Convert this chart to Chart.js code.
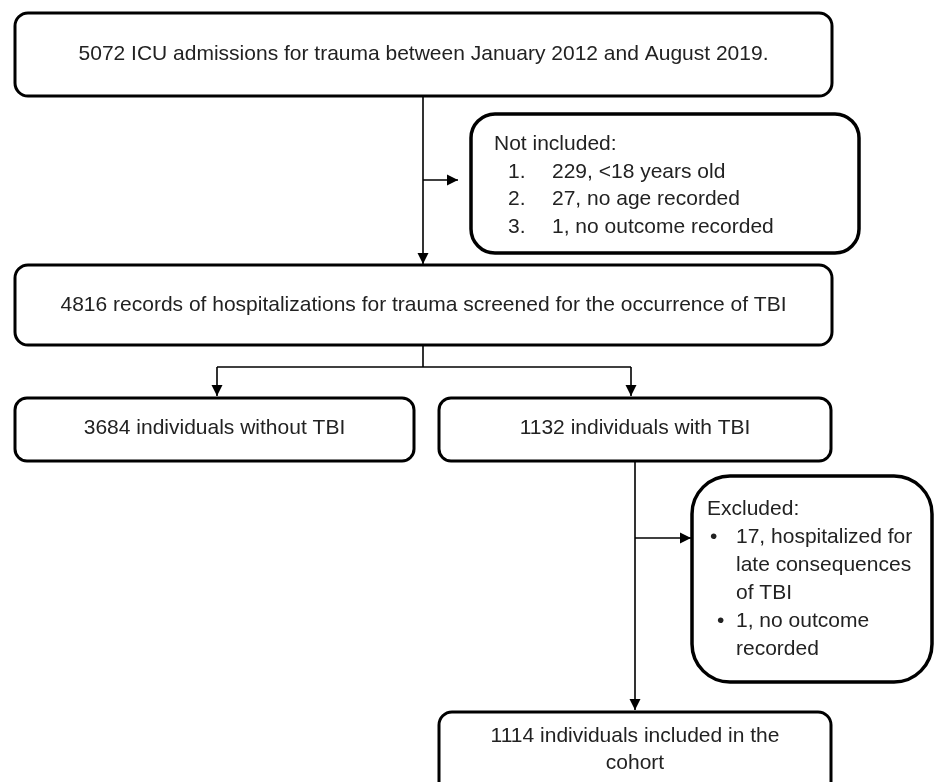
<!DOCTYPE html>
<html lang="en">
<head>
    <meta charset="UTF-8">
    <title>Flow chart</title>
    <script src="https://cdn.jsdelivr.net/npm/chart.js@4.4.1/dist/chart.umd.min.js"></script>
    <style>
        body { margin: 0; background: #fff; }
    </style>
</head>
<body>

<canvas id="flowChart" width="935" height="782"></canvas>

<script>
    const {Chart} = window;

    // texts of the boxes
    const admissionsText = ['5072 ICU admissions for trauma between January 2012 and August 2019.'];
    const screenedText = ['4816 records of hospitalizations for trauma screened for the occurrence of TBI'];
    const withoutTbiText = ['3684 individuals without TBI'];
    const withTbiText = ['1132 individuals with TBI'];
    const cohortText = ['1114 individuals included in the', 'cohort'];
    const notIncludedTitle = 'Not included:';
    const notIncludedMarks = ['1.', '2.', '3.'];
    const notIncludedItems = ['229, <18 years old', '27, no age recorded', '1, no outcome recorded'];
    const excludedTitle = 'Excluded:';
    const excludedMarks = ['•', '', '', '•', ''];
    const excludedItems = ['17, hospitalized for', 'late consequences', 'of TBI', '1, no outcome', 'recorded'];

    // layout, in chart units (x: 0..935, y: 0..782 top-down)
    const boxes = [
        {x0: 15, y0: 13, x1: 832, y1: 96, r: 13, w: 3, text: admissionsText, align: 'center', ty: 54},
        {x0: 471, y0: 114, x1: 859, y1: 253, r: 24, w: 3.5},
        {x0: 15, y0: 265, x1: 832, y1: 345, r: 13, w: 3, text: screenedText, align: 'center', ty: 305},
        {x0: 15, y0: 398, x1: 414, y1: 461, r: 12, w: 3, text: withoutTbiText, align: 'center', ty: 428},
        {x0: 439, y0: 398, x1: 831, y1: 461, r: 12, w: 3, text: withTbiText, align: 'center', ty: 428},
        {x0: 692, y0: 476, x1: 932, y1: 682, r: 38, w: 3.5},
        {x0: 439, y0: 712, x1: 831, y1: 800, r: 13, w: 3, text: cohortText, align: 'center', ty: 736, lh: 27}
    ];
    const notIncludedPos = {x: 494, markX: 508, itemX: 552, y: 150, lh: 27.7};
    const excludedPos = {x: 707, markX: [710, 0, 0, 717, 0], itemX: 736, y: 515, lh: 28};

    const connectors = [
        {pts: [[423, 97], [423, 264]], arrow: true},
        {pts: [[423, 180], [458, 180]], arrow: true},
        {pts: [[423, 346], [423, 367]], arrow: false},
        {pts: [[217, 367], [631, 367]], arrow: false},
        {pts: [[217, 367], [217, 396]], arrow: true},
        {pts: [[631, 367], [631, 396]], arrow: true},
        {pts: [[635, 462], [635, 710]], arrow: true},
        {pts: [[635, 538], [691, 538]], arrow: true}
    ];

    const FONT = '21px "Liberation Sans", Arial, sans-serif';
    const TEXT_COLOR = '#222';

    const roundRect = (ctx, x0, y0, x1, y1, r) => {
        ctx.beginPath();
        ctx.moveTo(x0 + r, y0);
        ctx.arcTo(x1, y0, x1, y1, r);
        ctx.arcTo(x1, y1, x0, y1, r);
        ctx.arcTo(x0, y1, x0, y0, r);
        ctx.arcTo(x0, y0, x1, y0, r);
        ctx.closePath();
    };

    const flowPlugin = {
        id: 'flow',
        beforeDatasetsDraw(chart) {
            const {ctx, scales: {x, y}} = chart;
            const px = v => x.getPixelForValue(v);
            const py = v => y.getPixelForValue(v);
            ctx.save();
            boxes.forEach(b => {
                roundRect(ctx, px(b.x0), py(b.y0), px(b.x1), py(b.y1), b.r);
                ctx.fillStyle = '#fff';
                ctx.fill();
                ctx.lineWidth = b.w;
                ctx.strokeStyle = '#000';
                ctx.stroke();
                if (b.text) {
                    ctx.font = FONT;
                    ctx.fillStyle = TEXT_COLOR;
                    ctx.textAlign = 'center';
                    ctx.textBaseline = 'middle';
                    const cx = (b.x0 + b.x1) / 2;
                    b.text.forEach((line, i) => {
                        ctx.fillText(line, px(cx), py(b.ty + i * (b.lh || 0)));
                    });
                }
            });
            ctx.font = FONT;
            ctx.fillStyle = TEXT_COLOR;
            ctx.textAlign = 'left';
            ctx.textBaseline = 'alphabetic';
            ctx.fillText(notIncludedTitle, px(notIncludedPos.x), py(notIncludedPos.y));
            notIncludedItems.forEach((item, i) => {
                const ly = notIncludedPos.y + (i + 1) * notIncludedPos.lh;
                ctx.fillText(notIncludedMarks[i], px(notIncludedPos.markX), py(ly));
                ctx.fillText(item, px(notIncludedPos.itemX), py(ly));
            });
            ctx.fillText(excludedTitle, px(excludedPos.x), py(excludedPos.y));
            excludedItems.forEach((item, i) => {
                const ly = excludedPos.y + (i + 1) * excludedPos.lh;
                if (excludedMarks[i]) ctx.fillText(excludedMarks[i], px(excludedPos.markX[i]), py(ly));
                ctx.fillText(item, px(excludedPos.itemX), py(ly));
            });
            ctx.restore();
        },
        afterDatasetsDraw(chart) {
            const {ctx} = chart;
            ctx.save();
            ctx.fillStyle = '#000';
            chart.data.datasets.forEach((ds, i) => {
                if (!ds.arrow) return;
                const pts = chart.getDatasetMeta(i).data;
                const a = pts[pts.length - 2], b = pts[pts.length - 1];
                const ang = Math.atan2(b.y - a.y, b.x - a.x);
                const len = 11, half = 5.5;
                ctx.beginPath();
                ctx.moveTo(b.x, b.y);
                ctx.lineTo(b.x - len * Math.cos(ang) - half * Math.sin(ang), b.y - len * Math.sin(ang) + half * Math.cos(ang));
                ctx.lineTo(b.x - len * Math.cos(ang) + half * Math.sin(ang), b.y - len * Math.sin(ang) - half * Math.cos(ang));
                ctx.closePath();
                ctx.fill();
            });
            ctx.restore();
        }
    };

    new Chart(document.getElementById('flowChart'), {
        type: 'scatter',
        data: {
            datasets: connectors.map(c => ({
                data: c.pts.map(([px, py]) => ({x: px, y: py})),
                showLine: true,
                borderColor: '#000',
                borderWidth: 1.6,
                pointRadius: 0,
                arrow: c.arrow,
                clip: false
            }))
        },
        options: {
            responsive: false,
            animation: false,
            layout: {padding: 0},
            plugins: {legend: {display: false}, tooltip: {enabled: false}},
            scales: {
                x: {type: 'linear', min: 0, max: 935, display: false},
                y: {type: 'linear', min: 0, max: 782, reverse: true, display: false}
            }
        },
        plugins: [flowPlugin]
    });
</script>

</body>
</html>
